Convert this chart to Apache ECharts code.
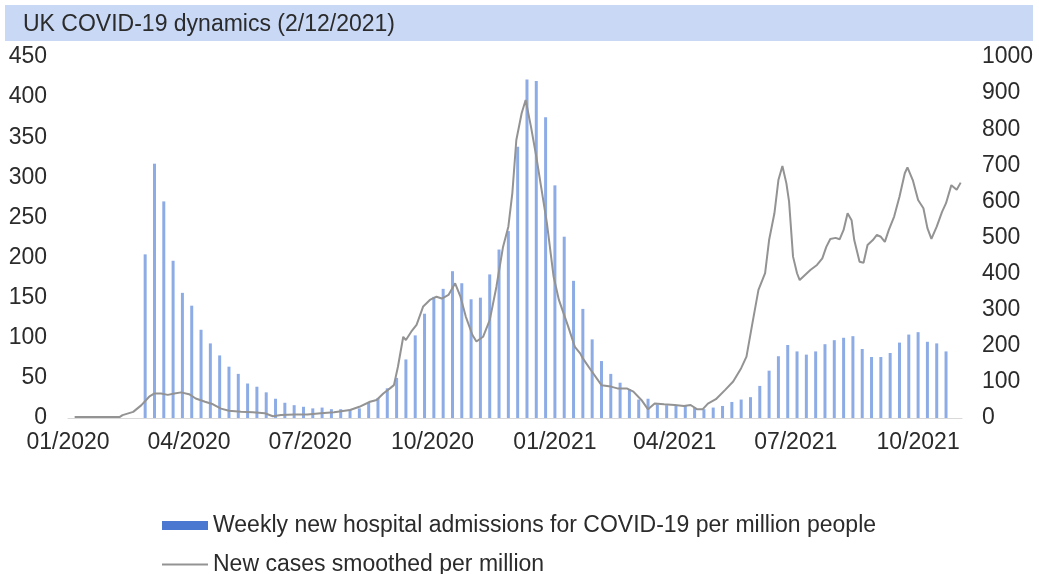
<!DOCTYPE html>
<html>
<head>
<meta charset="utf-8">
<script src="https://cdn.jsdelivr.net/npm/echarts@6/dist/echarts.min.js"></script>
<style>
html,body{margin:0;padding:0;background:#fff;}
#main{width:1039px;height:574px;}
</style>
</head>
<body>
<div id="main"></div>
<script>
// ---- Data ----
const chartTitle = 'UK COVID-19 dynamics (2/12/2021)';
const barSeriesName = 'Weekly new hospital admissions for COVID-19 per million people';
const lineSeriesName = 'New cases smoothed per million';
const xTickDates = ['2020-01-01','2020-04-01','2020-07-01','2020-10-01','2021-01-01','2021-04-01','2021-07-01','2021-10-01'];
const xMinDate = '2020-01-01';
const xMaxDate = '2021-11-03';
const leftTicks = [0, 450, 50];   // min, max, interval
const rightTicks = [0, 1000, 100];

// weekly bars: first week date and weekly step
const barFirstDate = '2020-02-28';
const barStepDays = 7;
const barValues = [204,317,270,196,156,140,110,93,78,64,55,43,39,32,24,19,16,14,12,13,11,11,11,12,19,25,37,50,73,103,130,151,161,183,168,148,150,179,210,233,338,422,420,375,290,226,171,136,98,71,55,44,36,23,24,17,16,15,16,13,11,13,15,20,23,26,40,59,77,91,83,79,83,92,97,100,102,86,76,76,81,94,104,107,95,93,83];

// smoothed new cases per million
const lineDates = ['2020-01-06','2020-02-09','2020-02-11','2020-02-19','2020-02-25','2020-03-02','2020-03-06','2020-03-11','2020-03-16','2020-03-21','2020-03-26','2020-04-01','2020-04-06','2020-04-13','2020-04-19','2020-04-25','2020-05-01','2020-05-10','2020-05-19','2020-05-28','2020-06-03','2020-06-09','2020-06-19','2020-06-29','2020-07-09','2020-07-19','2020-07-31','2020-08-07','2020-08-15','2020-08-20','2020-08-25','2020-08-30','2020-09-02','2020-09-05','2020-09-09','2020-09-11','2020-09-15','2020-09-19','2020-09-24','2020-09-29','2020-10-04','2020-10-08','2020-10-13','2020-10-18','2020-10-22','2020-10-26','2020-10-31','2020-11-03','2020-11-08','2020-11-13','2020-11-18','2020-11-23','2020-11-27','2020-11-30','2020-12-03','2020-12-07','2020-12-10','2020-12-14','2020-12-18','2020-12-22','2020-12-26','2020-12-31','2021-01-04','2021-01-11','2021-01-16','2021-01-20','2021-01-22','2021-01-28','2021-02-05','2021-02-12','2021-02-17','2021-02-24','2021-03-01','2021-03-07','2021-03-12','2021-03-17','2021-03-24','2021-04-01','2021-04-08','2021-04-13','2021-04-18','2021-04-22','2021-04-26','2021-05-02','2021-05-09','2021-05-15','2021-05-21','2021-05-25','2021-05-29','2021-06-03','2021-06-08','2021-06-11','2021-06-15','2021-06-18','2021-06-21','2021-06-24','2021-06-26','2021-06-29','2021-07-02','2021-07-04','2021-07-08','2021-07-12','2021-07-17','2021-07-21','2021-07-24','2021-07-27','2021-07-31','2021-08-03','2021-08-06','2021-08-09','2021-08-12','2021-08-14','2021-08-18','2021-08-21','2021-08-24','2021-08-28','2021-08-31','2021-09-03','2021-09-06','2021-09-09','2021-09-13','2021-09-17','2021-09-21','2021-09-23','2021-09-27','2021-10-01','2021-10-05','2021-10-08','2021-10-11','2021-10-15','2021-10-19','2021-10-22','2021-10-26','2021-10-30','2021-11-02'];
const lineValues = [3,3,8,17,35,59,68,68,64,68,71,66,54,45,38,26,20,17,16,13,5,8,10,10,13,16,22,31,45,50,68,82,91,142,225,216,239,258,309,327,336,331,341,373,336,281,230,212,225,271,363,474,530,623,770,844,881,807,724,632,539,392,327,253,197,179,165,133,91,87,82,82,73,50,24,40,38,36,33,36,24,24,40,52,78,101,138,170,253,355,401,493,567,659,698,650,600,447,401,382,396,410,424,442,474,496,499,495,521,567,548,493,433,430,479,493,507,502,488,521,558,613,678,694,659,604,581,526,496,530,571,595,645,632,652];

// ---- Build ----
function parseDate(s){ const p = s.split('-').map(Number); return Date.UTC(p[0], p[1]-1, p[2]); }
const DAY = 86400000;
const barData = barValues.map((v, i) => [parseDate(barFirstDate) + i * barStepDays * DAY, v]);
const lineData = lineDates.map((d, i) => [parseDate(d), lineValues[i]]);
function pad(n){ return (n < 10 ? '0' : '') + n; }

const FONT = "'Liberation Sans', Arial, sans-serif";
const TXT = '#2b2b2b';
const LINE_COLOR = '#939393';

const chart = echarts.init(document.getElementById('main'), null, {renderer: 'canvas'});
chart.setOption({
  animation: false,
  backgroundColor: '#ffffff',
  textStyle: {fontFamily: FONT},
  graphic: [{
    type: 'rect', z: -10, silent: true,
    shape: {x: 5, y: 5, width: 1028, height: 36},
    style: {fill: '#c8d8f5'}
  }],
  title: {
    text: chartTitle, left: 18, top: 8,
    textStyle: {fontFamily: FONT, fontSize: 23, fontWeight: 'normal', color: TXT}
  },
  legend: {
    orient: 'vertical', left: 157, top: 508, height: 66,
    itemWidth: 46, itemHeight: 9, itemGap: 14,
    symbolKeepAspect: true,
    textStyle: {fontFamily: FONT, fontSize: 23, color: TXT, lineHeight: 25},
    data: [
      {name: barSeriesName, icon: 'rect', itemStyle: {color: '#4a78d0'}},
      {name: lineSeriesName, icon: 'path://M0,0L46,0L46,2L0,2Z', itemStyle: {color: LINE_COLOR}}
    ]
  },
  grid: {left: 68, right: 77, top: 57, bottom: 156},
  xAxis: {
    type: 'value',
    min: parseDate(xMinDate), max: parseDate(xMaxDate),
    axisLine: {lineStyle: {color: '#d9d9d9', width: 1}},
    axisTick: {show: false},
    splitLine: {show: false},
    axisLabel: {
      customValues: xTickDates.map(parseDate),
      formatter: function (v) { const d = new Date(v); return pad(d.getUTCMonth()+1) + '/' + d.getUTCFullYear(); },
      fontFamily: FONT, fontSize: 23, color: TXT, margin: 13, hideOverlap: false
    }
  },
  yAxis: [{
    type: 'value', min: leftTicks[0], max: leftTicks[1], interval: leftTicks[2],
    axisLine: {show: false}, axisTick: {show: false}, splitLine: {show: false},
    axisLabel: {fontFamily: FONT, fontSize: 23, color: TXT, margin: 21, formatter: function (v) { return String(v); }}
  }, {
    type: 'value', min: rightTicks[0], max: rightTicks[1], interval: rightTicks[2],
    position: 'right',
    axisLine: {show: false}, axisTick: {show: false}, splitLine: {show: false},
    axisLabel: {fontFamily: FONT, fontSize: 23, color: TXT, margin: 20, formatter: function (v) { return String(v); }}
  }],
  series: [{
    name: barSeriesName, type: 'bar', yAxisIndex: 0,
    barWidth: 3, itemStyle: {color: '#8dace6'},
    data: barData
  }, {
    name: lineSeriesName, type: 'line', yAxisIndex: 1,
    symbol: 'none', smooth: false,
    lineStyle: {color: LINE_COLOR, width: 2},
    itemStyle: {color: LINE_COLOR},
    data: lineData
  }]
});
</script>
</body>
</html>
